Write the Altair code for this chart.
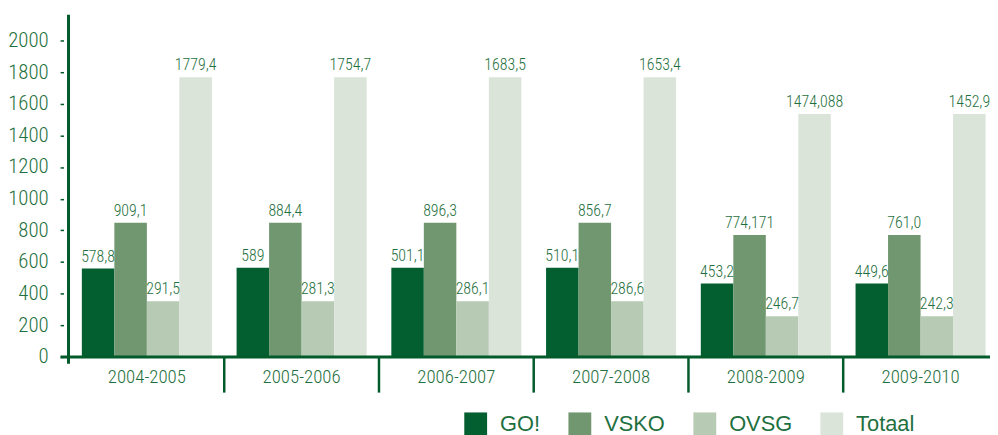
import altair as alt
import pandas as pd

years = ["2004-2005", "2005-2006", "2006-2007", "2007-2008", "2008-2009", "2009-2010"]
series = ["GO!", "VSKO", "OVSG", "Totaal"]

# bar heights as drawn in the picture
go_vals = [558, 564, 564, 564, 464, 464]
vsko_vals = [848, 848, 848, 848, 771, 771]
ovsg_vals = [351, 351, 351, 351, 257, 257]
totaal_vals = [1768, 1768, 1768, 1768, 1536, 1536]

# value labels as printed
go_labels = ["578,8", "589", "501,1", "510,1", "453,2", "449,6"]
vsko_labels = ["909,1", "884,4", "896,3", "856,7", "774,171", "761,0"]
ovsg_labels = ["291,5", "281,3", "286,1", "286,6", "246,7", "242,3"]
totaal_labels = ["1779,4", "1754,7", "1683,5", "1653,4", "1474,088", "1452,9"]

y_ticks = [0, 200, 400, 600, 800, 1000, 1200, 1400, 1600, 1800, 2000]

rows = []
for i, yr in enumerate(years):
    for s, vals, labs in zip(series,
                             [go_vals, vsko_vals, ovsg_vals, totaal_vals],
                             [go_labels, vsko_labels, ovsg_labels, totaal_labels]):
        rows.append({"year": yr, "series": s, "value": vals[i], "label": labs[i]})
df = pd.DataFrame(rows)

W, H = 929, 319
colors = ["#035f2f", "#70976f", "#b7cab4", "#dae4d9"]
txt = "#1f7040"
axis_c = "#035a2b"
narrow = "Roboto Condensed, Liberation Sans Narrow, DejaVu Sans Condensed, sans-serif"

x_enc = alt.X(
    "year:N", sort=years,
    scale=alt.Scale(range=[1, 937], paddingInner=0, paddingOuter=0),
    axis=alt.Axis(title=None, domain=False, ticks=False, tickSize=0, labelPadding=20,
                  labelBaseline="middle", labelAngle=0, labelFont=narrow, labelFontSize=19,
                  labelFontWeight=300, labelColor=txt),
)
xo = alt.XOffset("series:N", sort=series, scale=alt.Scale(paddingInner=0, paddingOuter=0.38))
y_enc = alt.Y(
    "value:Q",
    scale=alt.Scale(domain=[0, 2000], nice=False),
    axis=alt.Axis(title=None, values=y_ticks, format="d", labelOverlap=False, domain=False,
                  grid=False, offset=5, tickSize=3.5, tickColor=axis_c, tickWidth=1.5,
                  labelPadding=12, labelFontSize=21, labelFont=narrow, labelFontWeight=300,
                  labelColor=txt, labelBaseline="middle", tickCount=11),
)

bars = alt.Chart(df).mark_bar().encode(
    x=x_enc, xOffset=xo, y=y_enc,
    color=alt.Color("series:N", sort=series,
                    scale=alt.Scale(domain=series, range=colors),
                    legend=alt.Legend(title=None, orient="none", legendX=399, legendY=375,
                                      direction="horizontal", columns=4, symbolType="square",
                                      symbolSize=529, symbolStrokeWidth=0, symbolOpacity=1,
                                      labelFontSize=22, labelFont="Liberation Sans",
                                      labelColor=txt, labelOffset=13, columnPadding=28,
                                      padding=0)),
)

texts = alt.Chart(df).mark_text(dy=-7, baseline="alphabetic", fontSize=16, font=narrow,
                                fontWeight=300, color=txt).encode(
    x=x_enc, xOffset=xo, y=y_enc, text="label:N",
)

sep_df = pd.DataFrame({"year": years[1:]})
seps = alt.Chart(sep_df).mark_rule(color=axis_c, strokeWidth=2.5).encode(
    x=alt.X("year:N", sort=years, bandPosition=0),
    y=alt.value(H), y2=alt.value(H + 36),
)

one = pd.DataFrame({"a": [0]})
yline = alt.Chart(one).mark_rule(color=axis_c, strokeWidth=3).encode(
    x=alt.value(0), y=alt.value(-26), y2=alt.value(H + 7))
xline = alt.Chart(one).mark_rule(color=axis_c, strokeWidth=3).encode(
    x=alt.value(-8), x2=alt.value(W + 10), y=alt.value(H))

chart = alt.layer(bars, texts, seps, yline, xline).properties(
    width=W, height=H,
    autosize=alt.AutoSizeParams(type="none"),
    padding={"left": 61, "top": 31, "right": 0, "bottom": 77},
).configure_view(stroke=None)

chart.save("out.html", embed_options={"renderer": "svg", "actions": False})
